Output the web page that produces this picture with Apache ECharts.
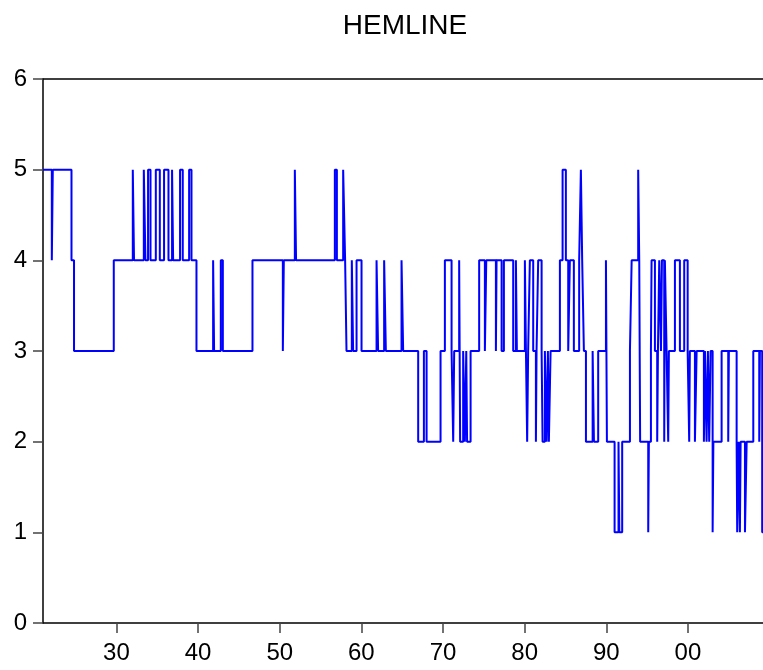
<!DOCTYPE html>
<html lang="en">
<head>
    <meta charset="UTF-8">
    <title>HEMLINE</title>
    <script src="https://cdn.jsdelivr.net/npm/echarts@6/dist/echarts.min.js"></script>
    <style>
        html, body { margin: 0; padding: 0; background: #fff; }
        #chart { width: 763px; height: 670px; }
    </style>
</head>
<body>
    <div id="chart"></div>
    <script type="text/javascript">
        // monthly hemline index, stored as the dates where the level changes
        var changeYear = [
            1921.0, 1922.08, 1922.2, 1924.49, 1924.8, 1929.67, 1932.0, 1932.15,
            1933.35, 1933.55, 1933.87, 1934.17, 1934.82, 1935.31, 1935.83, 1936.37,
            1936.81, 1936.94, 1937.79, 1938.12, 1938.9, 1939.19, 1939.8,
            1941.84, 1941.96, 1942.78, 1943.03, 1946.66, 1950.38, 1950.5,
            1951.85, 1952.0, 1956.75, 1957.0, 1957.77, 1958.01, 1958.18,
            1958.83, 1958.99, 1959.41, 1960.02, 1961.86, 1962.05, 1962.79, 1963.0,
            1964.92, 1965.12, 1966.96, 1967.66, 1967.99, 1969.7, 1970.23,
            1971.05, 1971.25, 1971.37, 1971.98, 1972.1, 1972.47, 1972.68, 1972.85,
            1972.95, 1973.38, 1974.43, 1975.13, 1975.3, 1976.48, 1976.56, 1977.18,
            1977.46, 1978.6, 1978.93, 1979.05, 1980.03, 1980.16, 1980.31, 1980.43,
            1980.64, 1981.05, 1981.38, 1981.46, 1981.66, 1982.08, 1982.2, 1982.48,
            1982.69, 1982.85, 1982.97, 1983.18, 1984.32, 1984.65, 1985.05, 1985.34,
            1985.54, 1986.03, 1986.68, 1986.89, 1987.05, 1987.26, 1987.51, 1988.33,
            1988.49, 1989.01, 1989.96, 1990.08, 1991.02, 1991.5, 1991.6, 1991.95,
            1992.9, 1993.11, 1993.91, 1994.04, 1994.15, 1995.14, 1995.22, 1995.47,
            1995.55, 1995.96, 1996.24, 1996.33, 1996.49, 1996.7, 1996.82, 1997.1,
            1997.18, 1997.39, 1997.59, 1997.67, 1998.41, 1999.02, 1999.55, 1999.97,
            2000.16, 2000.24, 2000.86, 2001.07, 2001.96, 2002.09, 2002.29, 2002.45,
            2002.61, 2002.78, 2003.03, 2003.12, 2004.13, 2004.94, 2005.02, 2005.97,
            2006.04, 2006.21, 2006.37, 2006.46, 2006.99, 2007.2, 2008.01, 2008.74,
            2008.82, 2009.1, 2009.2
        ];
        var level = [
            5, 4, 5, 4, 3, 4, 5, 4,
            5, 4, 5, 4, 5, 4, 5, 4,
            5, 4, 5, 4, 5, 4, 3,
            4, 3, 4, 3, 4, 3, 4,
            5, 4, 5, 4, 5, 4, 3,
            4, 3, 4, 3, 4, 3, 4, 3,
            4, 3, 2, 3, 2, 3, 4,
            3, 2, 3, 4, 2, 3, 2, 3,
            2, 3, 4, 3, 4, 3, 4, 3,
            4, 3, 4, 3, 4, 3, 2, 3,
            4, 3, 2, 3, 4, 3, 2, 3,
            2, 3, 2, 3, 4, 5, 4, 3,
            4, 3, 4, 5, 4, 3, 2, 3,
            2, 3, 4, 2, 1, 2, 1, 2,
            3, 4, 5, 4, 2, 1, 2, 3,
            4, 3, 2, 3, 4, 3, 4, 2,
            4, 3, 2, 3, 4, 3, 4, 3,
            2, 3, 2, 3, 2, 3, 2, 3,
            2, 3, 1, 2, 3, 2, 3, 2,
            1, 2, 1, 2, 1, 2, 3, 2,
            3, 1, 1
        ];
        var yearTicks = [1930, 1940, 1950, 1960, 1970, 1980, 1990, 2000];
        var xMin = 1921, xMax = 2009.2;

        var seriesData = changeYear.map(function (y, i) {
            return [y, level[i]];
        });

        var font = '"Liberation Sans", Arial, sans-serif';
        var myChart = echarts.init(document.getElementById('chart'), null, {renderer: 'canvas'});
        var option = {
            animation: false,
            backgroundColor: '#ffffff',
            title: {
                text: 'HEMLINE',
                left: 400,
                textAlign: 'center',
                top: 7,
                textStyle: {
                    fontFamily: font,
                    fontWeight: 'normal',
                    fontSize: 28,
                    color: '#000'
                }
            },
            grid: {
                left: 43,
                right: 0,
                top: 79,
                bottom: 47
            },
            xAxis: [
                {
                    type: 'value',
                    min: xMin,
                    max: xMax,
                    position: 'bottom',
                    splitLine: {show: false},
                    axisLine: {lineStyle: {color: '#000', width: 1.5}},
                    axisTick: {
                        customValues: yearTicks,
                        length: 10,
                        lineStyle: {color: '#444', width: 1.5}
                    },
                    axisLabel: {
                        customValues: yearTicks,
                        margin: 18,
                        fontFamily: font,
                        fontSize: 24,
                        color: '#000',
                        formatter: function (v) {
                            var s = String(Math.round(v) % 100);
                            return s.length < 2 ? '0' + s : s;
                        }
                    }
                },
                {
                    // top frame line
                    type: 'value',
                    min: xMin,
                    max: xMax,
                    position: 'top',
                    splitLine: {show: false},
                    axisLine: {lineStyle: {color: '#000', width: 1.5}},
                    axisTick: {show: false},
                    axisLabel: {show: false}
                }
            ],
            yAxis: {
                type: 'value',
                min: 0,
                max: 6,
                interval: 1,
                splitLine: {show: false},
                axisLine: {show: true, lineStyle: {color: '#000', width: 1.5}},
                axisTick: {show: true, length: 10, lineStyle: {color: '#444', width: 1.5}},
                axisLabel: {
                    margin: 16,
                    fontFamily: font,
                    fontSize: 24,
                    color: '#000'
                }
            },
            series: [
                {
                    name: 'HEMLINE',
                    type: 'line',
                    step: 'end',
                    data: seriesData,
                    showSymbol: false,
                    symbol: 'none',
                    lineStyle: {color: '#0000ff', width: 2},
                    silent: true
                }
            ]
        };
        myChart.setOption(option);
    </script>
</body>
</html>
